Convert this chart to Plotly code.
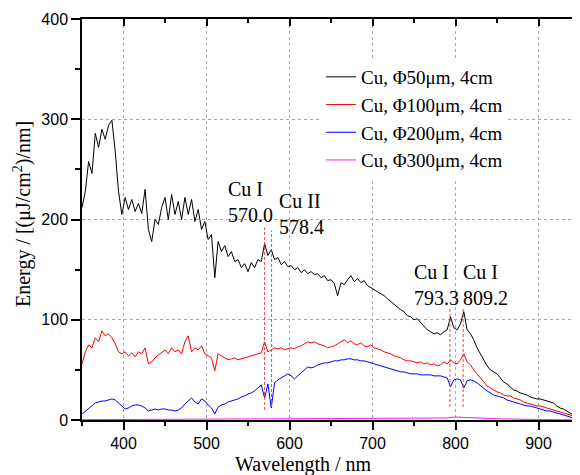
import plotly.graph_objects as go

# ---------------- data ----------------
wl = list(range(350, 951, 4))

cu50 = [212, 228, 258, 246, 286, 272, 290, 280, 294, 299, 268, 228, 205, 222, 210, 220,
        208, 216, 206, 230, 190, 178, 200, 195, 212, 222, 200, 225, 205, 218, 200, 222,
        205, 220, 198, 210, 190, 198, 180, 185, 142, 178, 168, 174, 163, 168, 158, 160,
        152, 156, 148, 157, 152, 160, 158, 176, 164, 170, 160, 162, 155, 158, 153, 154,
        150, 152, 147, 150, 146, 148, 145, 146, 142, 144, 139, 140, 136, 124, 137, 135,
        140, 144, 138, 141, 137, 139, 134, 132, 130, 128, 126, 124, 121, 118, 115, 112,
        110, 108, 104, 103, 100, 101, 97, 94, 90, 88, 86, 87, 85, 88, 90, 103,
        92, 90, 96, 108, 90, 86, 80, 72, 66, 60, 54, 50, 48, 46, 42, 38,
        36, 33, 30, 29, 27, 26, 25, 23, 22, 21, 21, 20, 19, 18, 17, 14,
        12, 11, 9, 7, 5, 3, 2]

cu100 = [56, 68, 75, 72, 82, 78, 89, 84, 86, 82, 76, 68, 66, 68, 64, 67,
         63, 68, 66, 72, 56, 58, 62, 65, 68, 70, 66, 72, 68, 70, 66, 78,
         84, 68, 72, 70, 74, 66, 64, 62, 49, 66, 64, 62, 60, 61, 62, 60,
         61, 62, 63, 64, 65, 66, 67, 78, 68, 70, 72, 71, 72, 70, 71, 72,
         71, 73, 74, 76, 78, 77, 78, 76, 75, 74, 72, 73, 74, 76, 78, 80,
         77, 79, 76, 75, 77, 74, 73, 75, 72, 71, 70, 68, 67, 66, 64, 63,
         62, 60, 59, 59, 58, 57, 58, 56, 57, 55, 56, 54, 55, 58, 56, 60,
         57, 56, 60, 66, 58, 55, 50, 46, 42, 38, 34, 32, 30, 28, 27, 25,
         24, 24, 22, 21, 20, 18, 17, 16, 15, 14, 14, 13, 12, 11, 10, 9,
         8, 7, 6, 5, 4, 3, 2]

cu200 = [6, 9, 12, 14, 17, 18, 19, 19, 20, 21, 20, 17, 13, 11, 12, 14,
         15, 15, 14, 12, 9, 10, 11, 10, 11, 11, 10, 10, 9, 10, 12, 16,
         19, 22, 18, 16, 21, 19, 15, 12, 6, 13, 15, 16, 18, 19, 20, 21,
         23, 24, 26, 27, 29, 32, 35, 22, 36, 12, 37, 40, 42, 44, 46, 44,
         41, 44, 47, 50, 53, 52, 53, 55, 56, 57, 57, 58, 59, 59, 60, 60,
         61, 61, 60, 60, 59, 59, 58, 57, 56, 55, 54, 53, 52, 51, 50, 49,
         48, 48, 47, 46, 46, 46, 45, 45, 45, 45, 44, 44, 44, 43, 42, 33,
         40, 41, 40, 32, 39, 40, 39, 37, 34, 31, 29, 27, 25, 24, 23, 22,
         20, 19, 18, 17, 16, 15, 14, 14, 13, 12, 11, 10, 9, 9, 8, 7,
         6, 5, 4, 3, 2, 1, 1]

wl300 = [350, 400, 450, 500, 550, 600, 650, 700, 750, 790, 800, 810, 850, 900, 950]
cu300 = [0.3, 0.5, 0.6, 0.8, 1.0, 1.3, 1.6, 1.8, 1.7, 2.0, 3.0, 2.5, 1.2, 0.5, 0.1]

series_names = ["Cu, Φ50μm, 4cm", "Cu, Φ100μm, 4cm", "Cu, Φ200μm, 4cm", "Cu, Φ300μm, 4cm"]
series_colors = ["#000000", "#ff0000", "#0000ff", "#f020f0"]

line_wl = [570.0, 578.4, 793.3, 809.2]
line_top = [192, 189, 113, 112]
line_bot = [10, 13, 13, 13]
label_text = ["Cu I<br>570.0", "Cu II<br>578.4", "Cu I<br>793.3", "Cu I<br>809.2"]
label_x = [524, 585, 747, 807]
label_y = [217, 205, 135, 135]

x_ticks = [400, 500, 600, 700, 800, 900]
y_ticks = [0, 100, 200, 300, 400]

# the page adds an 8px body margin, so the figure is 8px smaller than the window
W, H = 572, 467
L, R, T, B = 74, 572, 11, 412  # plot-area edges in figure pixels
PW, PH = R - L, B - T

def px(xp):
    return (xp - L) / PW

def py(yp):
    return (B - yp) / PH

# ---------------- figure ----------------
fig = go.Figure()
xs = [wl, wl, wl, wl300]
ys = [cu50, cu100, cu200, cu300]
for name, col, x, y in zip(series_names, series_colors, xs, ys):
    fig.add_trace(go.Scatter(x=x, y=y, mode="lines", name=name,
                             line=dict(color=col, width=1)))

for w, t, b in zip(line_wl, line_top, line_bot):
    fig.add_trace(go.Scatter(x=[w, w], y=[b, t], mode="lines", showlegend=False,
                             line=dict(color="rgba(235,50,50,0.9)", width=1, dash="3px,2px"),
                             hoverinfo="skip"))

# dummy trace for the mirrored (top/right) axes
fig.add_trace(go.Scatter(x=[None], y=[None], xaxis="x2", yaxis="y2", showlegend=False,
                         hoverinfo="skip"))

for t, x, y in zip(label_text, label_x, label_y):
    fig.add_annotation(x=x, y=y, text=t, showarrow=False, xanchor="left", yanchor="middle",
                       align="left", font=dict(family="Liberation Serif", size=20, color="#000"))

fig.add_annotation(xref="paper", yref="paper", x=px(303 - 8), y=py(464 - 8),
                   text="Wavelength / nm", showarrow=False, xanchor="center", yanchor="middle",
                   font=dict(family="Liberation Serif", size=20, color="#000"))
fig.add_annotation(xref="paper", yref="paper", x=px(22 - 8), y=py(214 - 8),
                   text="Energy / [(μJ/cm<sup>2</sup>)/nm]", showarrow=False, textangle=-90,
                   xanchor="center", yanchor="middle",
                   font=dict(family="Liberation Serif", size=20, color="#000"))

axis_common = dict(showline=True, linecolor="black", linewidth=1.5, mirror=False, zeroline=False)

fig.update_layout(
    width=W, height=H,
    margin=dict(l=L, r=W - R, t=T, b=H - B),
    paper_bgcolor="white", plot_bgcolor="white",
    font=dict(family="Liberation Sans", size=16, color="black"),
    xaxis=dict(range=[350, 950], tickvals=x_ticks, ticks="outside", ticklen=8, tickwidth=1.5,
               tickcolor="black", showgrid=True, gridcolor="#aaaaaa", griddash="dot", gridwidth=1,
               minor=dict(dtick=50, tick0=0, ticks="outside", ticklen=4, tickwidth=1.5,
                          tickcolor="black", showgrid=False),
               tickfont=dict(family="Liberation Sans", size=16), **axis_common),
    yaxis=dict(range=[0, 400], tickvals=y_ticks, ticks="outside", ticklen=9, tickwidth=1.5,
               tickcolor="black", showgrid=True, gridcolor="#aaaaaa", griddash="dot", gridwidth=1,
               minor=dict(dtick=50, tick0=0, ticks="outside", ticklen=5, tickwidth=1.5,
                          tickcolor="black", showgrid=False),
               tickfont=dict(family="Liberation Sans", size=16), **axis_common),
    xaxis2=dict(overlaying="x", matches="x", side="top", anchor="y2", range=[350, 950],
                tickvals=x_ticks, ticks="inside", ticklen=7, tickwidth=1.5, tickcolor="black",
                showticklabels=False, showgrid=False,
                minor=dict(dtick=50, tick0=0, ticks="inside", ticklen=4, tickwidth=1.5,
                           tickcolor="black"),
                **axis_common),
    yaxis2=dict(overlaying="y", matches="y", side="right", anchor="x2", range=[0, 400],
                tickvals=y_ticks, ticks="inside", ticklen=8, tickwidth=1.5, tickcolor="black",
                showticklabels=False, showgrid=False,
                minor=dict(dtick=50, tick0=0, ticks="inside", ticklen=4, tickwidth=1.5,
                           tickcolor="black"),
                **axis_common),
    legend=dict(x=px(313), y=py(50), xanchor="left", yanchor="top",
                bgcolor="white", borderwidth=0, tracegroupgap=0,
                font=dict(family="Liberation Serif", size=19, color="black")),
    showlegend=True,
)

fig.write_html("out.html")
